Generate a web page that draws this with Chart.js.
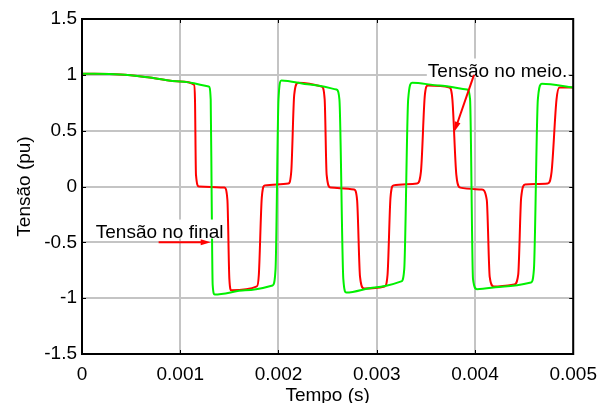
<!DOCTYPE html>
<html>
<head>
<meta charset="utf-8">
<script src="https://cdn.jsdelivr.net/npm/chart.js@4.4.1/dist/chart.umd.min.js"></script>
<style>
  body { margin: 0; background: #fff; }
  canvas { display: block; }
</style>
</head>
<body>
<canvas id="myChart" width="606" height="403"></canvas>
<script>
// time in ms (axis labelled in seconds)
var xTickLabels = ['0', '0.001', '0.002', '0.003', '0.004', '0.005'];
var yTickLabels = ['-1.5', '-1', '-0.5', '0', '0.5', '1', '1.5'];

var tFinal = [0, 0.39, 0.69, 1.00, 1.29, 1.31, 1.32, 1.33, 1.35, 1.66, 1.94, 1.97, 2.00, 2.03, 2.32, 2.59, 2.62, 2.66, 2.69, 2.98,
    3.25, 3.28, 3.32, 3.36, 3.64, 3.92, 3.95, 3.98, 4.02, 4.30, 4.57, 4.60, 4.64, 4.68, 5.00];
var vFinal = [1.01, 1.003, 0.976, 0.94, 0.895, 0.78, -0.12, -0.88, -0.967, -0.93, -0.886, -0.74, 0.78, 0.95, 0.913, 0.868, 0.78, -0.83, -0.95, -0.904,
    -0.85, -0.74, 0.78, 0.93, 0.904, 0.868, 0.78, -0.83, -0.92, -0.895, -0.86, -0.74, 0.78, 0.92, 0.886];

var tMeio = [0, 0.39, 0.69, 1.00, 1.14, 1.15, 1.16, 1.19, 1.45, 1.48, 1.50, 1.52, 1.78, 1.80, 1.83, 1.86, 2.10, 2.13, 2.16, 2.20,
    2.44, 2.47, 2.49, 2.53, 2.77, 2.80, 2.83, 2.87, 3.08, 3.11, 3.14, 3.17, 3.41, 3.45, 3.49, 3.52, 3.74, 3.77, 3.81, 3.85,
    4.07, 4.12, 4.15, 4.19, 4.40, 4.44, 4.47, 4.51, 4.74, 4.78, 4.83, 4.86, 5.00];
var vMeio = [1.01, 1.003, 0.976, 0.94, 0.913, 0.78, 0.107, 0.0, -0.01, -0.12, -0.83, -0.93, -0.895, -0.79, -0.1, 0.01, 0.027, 0.134, 0.82, 0.93,
    0.895, 0.78, 0.107, -0.01, -0.027, -0.12, -0.81, -0.913, -0.895, -0.79, -0.1, 0.01, 0.027, 0.134, 0.82, 0.904, 0.886, 0.78, 0.107, -0.01,
    -0.027, -0.12, -0.81, -0.895, -0.877, -0.79, -0.1, 0.018, 0.027, 0.134, 0.78, 0.886, 0.886];

// labels with arrows, in data units (x in ms)
var notes = [
    { text: 'Tensão no final', x: 0.14, y: -0.457, from: [0.78, -0.5], to: [1.31, -0.5] },
    { text: 'Tensão no meio.', x: 3.52, y: 0.985, from: [3.99, 1.0], to: [3.79, 0.49] }
];

var FONT = '"Liberation Sans", Arial, sans-serif';

function toPoints(xs, ys) {
    return xs.map(function (x, i) { return { x: x, y: ys[i] }; });
}

var framePlugin = {
    id: 'frame',
    afterDatasetsDraw: function (chart) {
        var ctx = chart.ctx;
        var xs = chart.scales.x, ys = chart.scales.y;
        ctx.save();
        ctx.font = '19px ' + FONT;
        notes.forEach(function (n) {
            var px = xs.getPixelForValue(n.x), py = ys.getPixelForValue(n.y);
            var w = ctx.measureText(n.text).width;
            ctx.fillStyle = '#fff';
            ctx.fillRect(px - 1, py - 18, w + 2, 19);
            ctx.fillStyle = '#000';
            ctx.textBaseline = 'alphabetic';
            ctx.fillText(n.text, px, py);

            var x1 = xs.getPixelForValue(n.from[0]), y1 = ys.getPixelForValue(n.from[1]);
            var x2 = xs.getPixelForValue(n.to[0]), y2 = ys.getPixelForValue(n.to[1]);
            var a = Math.atan2(y2 - y1, x2 - x1);
            ctx.strokeStyle = '#ff0000';
            ctx.fillStyle = '#ff0000';
            ctx.lineWidth = 2;
            ctx.beginPath();
            ctx.moveTo(x1, y1);
            ctx.lineTo(x2 - 8 * Math.cos(a), y2 - 8 * Math.sin(a));
            ctx.stroke();
            ctx.beginPath();
            ctx.moveTo(x2, y2);
            ctx.lineTo(x2 - 10 * Math.cos(a) + 3 * Math.sin(a), y2 - 10 * Math.sin(a) - 3 * Math.cos(a));
            ctx.lineTo(x2 - 10 * Math.cos(a) - 3 * Math.sin(a), y2 - 10 * Math.sin(a) + 3 * Math.cos(a));
            ctx.closePath();
            ctx.fill();
        });
        ctx.restore();
    },
    afterDraw: function (chart) {
        var ctx = chart.ctx;
        var a = chart.chartArea;
        ctx.save();
        ctx.strokeStyle = '#000';
        ctx.lineWidth = 1;
        // inward tick marks
        ctx.beginPath();
        chart.scales.x.ticks.forEach(function (t) {
            var px = Math.round(chart.scales.x.getPixelForValue(t.value)) + 0.5;
            ctx.moveTo(px, a.bottom); ctx.lineTo(px, a.bottom - 4);
            ctx.moveTo(px, a.top); ctx.lineTo(px, a.top + 4);
        });
        chart.scales.y.ticks.forEach(function (t) {
            var py = Math.round(chart.scales.y.getPixelForValue(t.value)) + 0.5;
            ctx.moveTo(a.left, py); ctx.lineTo(a.left + 4, py);
            ctx.moveTo(a.right, py); ctx.lineTo(a.right - 4, py);
        });
        ctx.stroke();
        ctx.lineWidth = 2;
        ctx.strokeRect(a.left, a.top, a.right - a.left, a.bottom - a.top);
        ctx.restore();
    }
};

var ctx = document.getElementById('myChart').getContext('2d');

var myChart = new Chart(ctx, {
    type: 'scatter',
    data: {
        datasets: [{
            label: 'Tensão no final',
            data: toPoints(tFinal, vFinal),
            showLine: true,
            borderColor: '#00f000',
            borderWidth: 2,
            pointRadius: 0,
            cubicInterpolationMode: 'monotone'
        }, {
            label: 'Tensão no meio',
            data: toPoints(tMeio, vMeio),
            showLine: true,
            borderColor: '#ff0000',
            borderWidth: 2,
            pointRadius: 0,
            cubicInterpolationMode: 'monotone'
        }]
    },
    options: {
        responsive: false,
        animation: false,
        layout: { padding: { left: 0, top: 19, right: 31, bottom: 0 } },
        plugins: {
            legend: { display: false },
            tooltip: { enabled: false }
        },
        scales: {
            x: {
                type: 'linear',
                min: 0,
                max: 5,
                afterFit: function (scale) { scale.height = 49; },
                ticks: {
                    stepSize: 1,
                    padding: 9,
                    color: '#000',
                    font: { family: FONT, size: 19 },
                    maxRotation: 0,
                    callback: function (value, index) { return xTickLabels[index]; }
                },
                grid: { color: '#c4c4c4', lineWidth: 2, drawTicks: false },
                border: { display: false },
                title: {
                    display: true,
                    text: 'Tempo (s)',
                    color: '#000',
                    font: { family: FONT, size: 19 },
                    padding: { top: 0, bottom: -4 }
                }
            },
            y: {
                min: -1.5,
                max: 1.5,
                afterFit: function (scale) { scale.width = 82; },
                ticks: {
                    stepSize: 0.5,
                    padding: 5,
                    color: '#000',
                    font: { family: FONT, size: 19 },
                    callback: function (value, index) { return yTickLabels[index]; }
                },
                grid: { color: '#c4c4c4', lineWidth: 2, drawTicks: false },
                border: { display: false },
                title: {
                    display: true,
                    text: 'Tensão (pu)',
                    color: '#000',
                    font: { family: FONT, size: 19 },
                    padding: { top: 13, bottom: 0 }
                }
            }
        }
    },
    plugins: [framePlugin]
});
</script>
</body>
</html>
